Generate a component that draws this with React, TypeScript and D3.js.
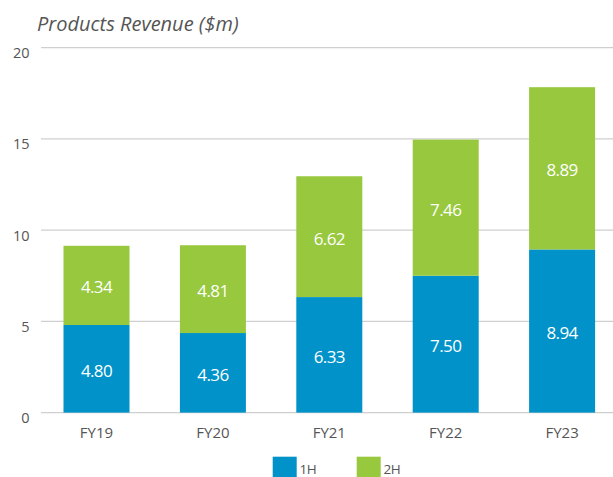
import React from "react";
import * as d3 from "d3";

const categories = ["FY19", "FY20", "FY21", "FY22", "FY23"];
const firstHalf = [4.8, 4.36, 6.33, 7.5, 8.94];
const secondHalf = [4.34, 4.81, 6.62, 7.46, 8.89];
const yTicks = [0, 5, 10, 15, 20];
const seriesNames = ["1H", "2H"];
const colors = ["#0092C8", "#97C83D"];

const W = 613;
const H = 477;
const FONT = "'Open Sans', 'Noto Sans', sans-serif";

export default function App() {
  const x = d3
    .scaleBand<string>()
    .domain(categories)
    .range([38.3, 620.3])
    .paddingInner(0.433)
    .paddingOuter(0.2165);
  const y = d3.scaleLinear().domain([0, 20]).range([412.6, 47.6]);

  const rows = categories.map((c, i) => ({ cat: c, h1: firstHalf[i], h2: secondHalf[i] }));
  const stack = d3.stack<any>().keys(["h1", "h2"])(rows);

  return (
    <div style={{ position: "absolute", left: 0, top: 0 }}>
      <svg width={W} height={H} style={{ display: "block", fontFamily: FONT }}>
        <rect width={W} height={H} fill="#fff" />
        <text x={37} y={30.5} fontSize={20} fontStyle="italic" fill="#555">
          Products Revenue ($m)
        </text>
        {yTicks.map((t) => (
          <g key={t}>
            <line x1={41} x2={W} y1={y(t)} y2={y(t)} stroke="#cfcfcf" strokeWidth={1.2} />
            <text x={29.5} y={y(t) + 10.5} textAnchor="end" fontSize={14.5} fill="#555">
              {t}
            </text>
          </g>
        ))}
        {stack.map((s, si) =>
          s.map((d, i) => {
            const x0 = x(categories[i])!;
            const top = y(d[1]);
            const bot = y(d[0]);
            const val = si === 0 ? firstHalf[i] : secondHalf[i];
            return (
              <g key={`${si}-${i}`}>
                <rect x={x0} y={top} width={x.bandwidth()} height={bot - top} fill={colors[si]} />
                <text
                  x={x0 + x.bandwidth() / 2}
                  y={(top + bot) / 2 + 1.5}
                  textAnchor="middle"
                  dominantBaseline="central"
                  fontSize={17}
                  letterSpacing={-0.6}
                  fill="#fff"
                >
                  {val.toFixed(2)}
                </text>
              </g>
            );
          })
        )}
        {categories.map((c) => (
          <text
            key={c}
            x={x(c)! + x.bandwidth() / 2}
            y={437.5}
            textAnchor="middle"
            fontSize={15}
            fill="#555"
          >
            {c}
          </text>
        ))}
        {seriesNames.map((n, i) => (
          <g key={n}>
            <rect x={272.7 + i * 84} y={456.7} width={24} height={22} fill={colors[i]} />
            <text x={299.5 + i * 84} y={474} fontSize={13.5} fill="#555" letterSpacing={-0.5}>
              {n}
            </text>
          </g>
        ))}
      </svg>
    </div>
  );
}
